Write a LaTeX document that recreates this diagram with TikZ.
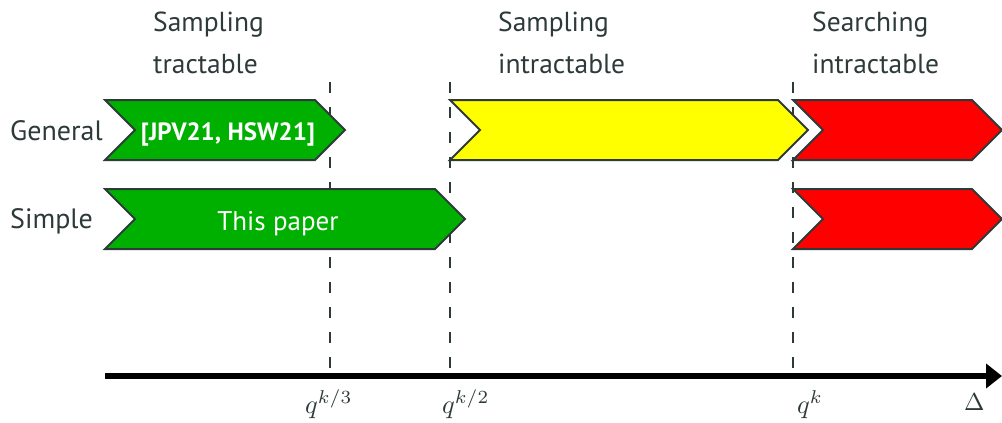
\documentclass[tikz,border=0pt]{standalone}
\usepackage[no-math]{fontspec}
\setmainfont{PT Sans}
\usetikzlibrary{arrows.meta}
\definecolor{ink}{HTML}{2E3A3A}
\definecolor{okgreen}{HTML}{00B000}
\definecolor{warnyellow}{HTML}{FFFF00}
\definecolor{hardred}{HTML}{FF0000}
\tikzset{
  band/.style={draw=ink, line width=2pt, line join=miter},
  phase/.style={font=\fontsize{27.5}{42}\selectfont, text=ink, align=left, inner sep=0pt, anchor=north west},
  rowlabel/.style={font=\fontsize{28}{32}\selectfont, text=ink, inner sep=0pt, anchor=base west},
  inlabel/.style={text=white, inner sep=0pt, anchor=base},
  threshold/.style={draw=ink, line width=2pt, dash pattern=on 11pt off 14pt},
  axislabel/.style={text=ink, inner sep=0pt, anchor=base west, font=\normalsize},
}
\begin{document}
\begin{tikzpicture}[x=1pt, y=-1pt]
\useasboundingbox (0,0) rectangle (1002,423);

% phase headings
\node[phase] (h1) at (153,12) {Sampling\\tractable};
\node[phase] (h2) at (498,12) {Sampling\\intractable};
\node[phase] (h3) at (812,12) {Searching\\intractable};

% threshold positions on the axis
\coordinate (t3) at (330,368);
\coordinate (t2) at (450,368);
\coordinate (t1) at (793,368);
\draw[threshold] (t3) -- (330,68);
\draw[threshold] (t2) -- (450,68);
\draw[threshold] (t1) -- (793,68);

% row labels
\node[rowlabel] (general) at (10,140) {General};
\node[rowlabel] (simple) at (10,228) {Simple};

% general row
\draw[band, fill=okgreen] (105,100) -- (315,100) -- (345,130) -- (315,160) -- (105,160) -- (135,130) -- cycle;
\node[inlabel, font=\fontsize{25}{30}\selectfont\bfseries] (prior) at (228,140) {[JPV21, HSW21]};
\draw[band, fill=warnyellow] (450,100) -- (778,100) -- (808,130) -- (778,160) -- (450,160) -- (480,130) -- cycle;
\draw[band, fill=hardred] (793,100) -- (972,100) -- (1002,130) -- (972,160) -- (793,160) -- (823,130) -- cycle;

% simple row
\draw[band, fill=okgreen] (105,189) -- (435,189) -- (465,219) -- (435,249) -- (105,249) -- (135,219) -- cycle;
\node[inlabel, font=\fontsize{27}{32}\selectfont] (paper) at (278,230) {This paper};
\draw[band, fill=hardred] (793,189) -- (972,189) -- (1002,219) -- (972,249) -- (793,249) -- (823,219) -- cycle;

% axis
\coordinate (a0) at (105,376);
\coordinate (a1) at (1002,376);
\draw[draw=black, line width=6pt, -{Triangle[length=16pt, width=24pt]}] (a0) -- (a1);

% axis labels (math set at 10pt and enlarged)
\node[axislabel] (q3) at (305,413) {\scalebox{2.65}{$q^{k/3}$}};
\node[axislabel] (q2) at (442,413) {\scalebox{2.65}{$q^{k/2}$}};
\node[axislabel] (q1) at (797,413) {\scalebox{2.65}{$q^{k}$}};
\node[axislabel] (delta) at (964,410) {\scalebox{2.45}{$\Delta$}};
\end{tikzpicture}
\end{document}
